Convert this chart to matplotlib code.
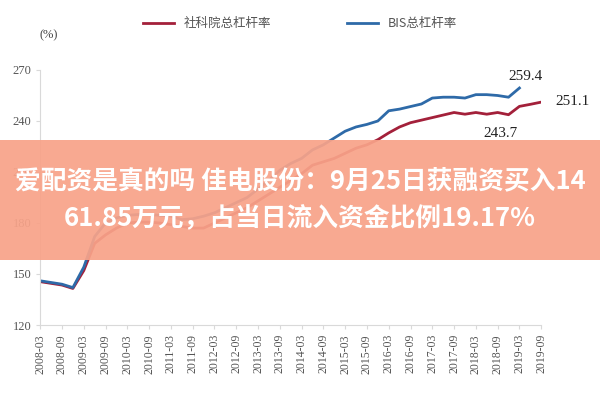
import matplotlib
matplotlib.use("Agg")
import matplotlib.pyplot as plt
from matplotlib.patches import Rectangle

bis = [146, 145, 144, 142, 154, 172, 180, 183, 184.5, 185, 185, 184.5, 184, 182, 182.5, 184,
       186, 189, 192, 195, 200, 205, 211, 215, 218, 223, 226, 230, 234, 236.5, 238, 240,
       246, 247, 248.5, 250, 253.5, 254, 254, 253.5, 255.5, 255.5, 255, 254, 259.4]
cass = [145.5, 144.5, 143.5, 141.5, 152, 168, 173, 177, 180, 180.5, 180.5, 180, 179, 178, 177, 177,
        180, 183, 186, 189, 193, 197, 201, 205, 209, 214, 216, 218, 221, 224, 226, 229,
        233, 236.5, 239, 240.5, 242, 243.5, 245, 244, 245, 244, 245, 243.7, 248.6, 249.8, 251.1]
tick_labels = [f"{y}-{m}" for y in range(2008, 2020) for m in ("03", "09")]
yticks = [120, 150, 180, 210, 240, 270]
legend_names = ["社科院总杠杆率", "BIS总杠杆率"]
banner = "爱配资是真的吗 佳电股份：9月25日获融资买入14\n61.85万元，占当日流入资金比例19.17%"

fig = plt.figure(figsize=(6, 4), dpi=100)
ax = fig.add_axes([0.067, 0.1875, 0.835, 0.6375])
red, blue = "#a3203a", "#2e6aa8"
ax.plot(range(len(cass)), cass, color=red, lw=2, label=legend_names[0])
ax.plot(range(len(bis)), bis, color=blue, lw=2, label=legend_names[1])
ax.set_xlim(0, 46)
ax.set_ylim(120, 270)
ax.set_yticks(yticks)
ax.set_xticks(range(0, 47, 2))
ax.set_xticklabels(tick_labels, rotation=90, fontfamily="Liberation Serif", fontsize=8.5, color="#666666")
for t in ax.get_yticklabels():
    t.set_fontfamily("Liberation Serif"); t.set_color("#555555"); t.set_fontsize(9)
for s in ("top", "right"):
    ax.spines[s].set_visible(False)
for s in ("left", "bottom"):
    ax.spines[s].set_color("#d9d9d9")
ax.tick_params(colors="#d9d9d9", length=3, labelcolor="#555555")
ax.set_facecolor("none")

sf = dict(fontfamily="Liberation Serif", fontsize=11, color="#222222")
ax.annotate(f"{bis[-1]}", (44, bis[-1]), xytext=(-8, 6), textcoords="offset points", **sf)
ax.annotate(f"{cass[-1]}", (46, cass[-1]), xytext=(10, -2), textcoords="offset points", **sf)
ax.annotate(f"{cass[43]}", (43, cass[43]), xytext=(-18, -16), textcoords="offset points", **sf)

fig.text(0.065, 0.905, "(%)", fontfamily="Liberation Serif", fontsize=9, color="#444444")
leg = fig.legend(loc="upper center", bbox_to_anchor=(0.5, 0.985), ncol=2, frameon=False,
                 prop={"family": "Noto Sans CJK SC", "size": 9}, handlelength=2.5, columnspacing=6)
for t in leg.get_texts():
    t.set_color("#555555")

fig.patches.append(Rectangle((0, 0.35), 1, 0.3, transform=fig.transFigure,
                             facecolor="#f8a389", alpha=0.93, zorder=10))
fig.text(0.5, 0.5, banner, ha="center", va="center", fontfamily="Noto Sans CJK SC",
         fontsize=18.5, fontweight="bold", color="white", linespacing=1.5, zorder=11)
fig.savefig("out.png", dpi=100)
